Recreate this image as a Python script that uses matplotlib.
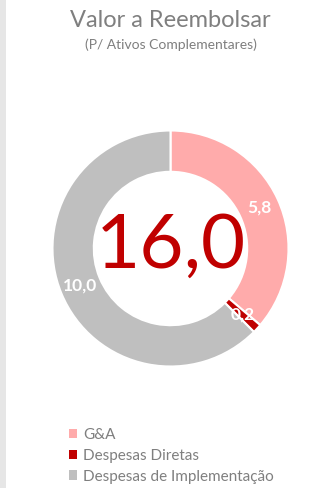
import numpy as np
import matplotlib.pyplot as plt
from matplotlib.patches import Patch, Rectangle

# dados do gráfico
categorias = ["G&A", "Despesas Diretas", "Despesas de Implementação"]
valores = [5.8, 0.2, 10.0]
cores = ["#FFABAB", "#C00000", "#BFBFBF"]

plt.rcParams['font.family'] = ['Lato', 'DejaVu Sans']

fig = plt.figure(figsize=(3.33, 4.88), dpi=100)

# faixa cinza na borda esquerda
fig.patches.append(Rectangle((0, 0), 6 / 333, 1, transform=fig.transFigure,
                             facecolor="#E6E6E6", edgecolor="none"))

fig.text(0.512, 0.957, "Valor a Reembolsar", ha="center", va="center",
         fontsize=17, color="#7F7F7F")
fig.text(0.512, 0.909, "(P/ Ativos Complementares)", ha="center", va="center",
         fontsize=10, color="#7F7F7F")

cx, cy, r = 170.5, 248.5, 118
ax = fig.add_axes([(cx - r) / 333, (488 - cy - r) / 488, 2 * r / 333, 2 * r / 488])

total = sum(valores)
wedges, _ = ax.pie(valores, colors=cores, startangle=90, counterclock=False,
                   radius=1.0,
                   wedgeprops=dict(width=0.35, edgecolor="white", linewidth=1.5))

# rótulos de valor no meio do anel
ang = 90.0
for v in valores:
    meio = ang - v / total * 360 / 2
    ang -= v / total * 360
    rr = 0.83
    ax.text(rr * np.cos(np.radians(meio)), rr * np.sin(np.radians(meio)),
            f"{v:.1f}".replace(".", ","), ha="center", va="center",
            fontsize=12.5, fontweight="bold", color="white")

ax.text(0, 0.02, f"{total:.1f}".replace(".", ","), ha="center", va="center",
        fontsize=55, color="#C00000")
ax.set_xlim(-1, 1)
ax.set_ylim(-1, 1)
ax.set_aspect("equal")
ax.axis("off")

handles = [Patch(facecolor=c, edgecolor="none") for c in cores]
leg = fig.legend(handles, categorias, loc="upper left",
                 bbox_to_anchor=(55 / 333, 1 - 414 / 488), frameon=False,
                 fontsize=11, handlelength=0.55, handleheight=0.55,
                 handletextpad=0.4, labelspacing=0.45)
for t in leg.get_texts():
    t.set_color("#7F7F7F")

fig.savefig("out.png", dpi=100)
